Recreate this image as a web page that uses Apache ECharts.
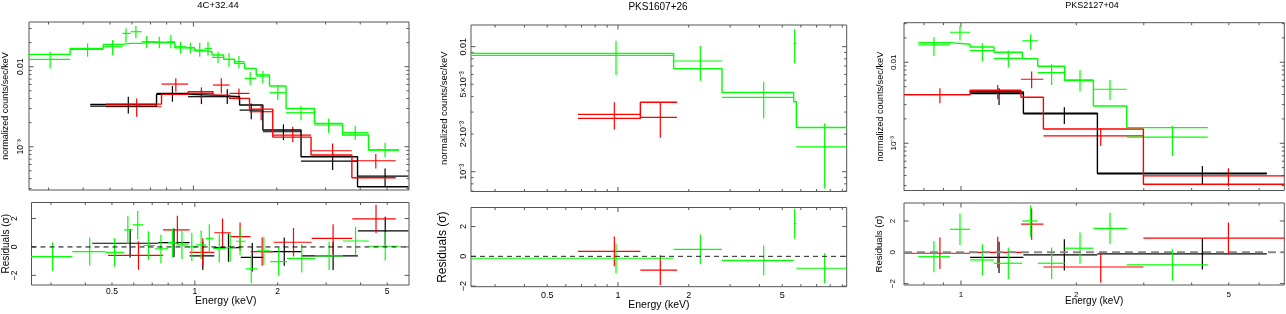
<!DOCTYPE html>
<html><head><meta charset="utf-8">
<script src="https://cdn.jsdelivr.net/npm/echarts@6/dist/echarts.min.js"></script>
<style>html,body{margin:0;padding:0;background:#fff}#c{width:1286px;height:314px}</style>
</head><body><div id="c"></div>
<script>
// ---------- Panel titles ----------
const panelTitles = ['4C+32.44', 'PKS1607+26', 'PKS2127+04'];

// ---------- Panel 1: 4C+32.44 ----------
const p1GreenEdges = [0.254, 0.359, 0.473, 0.554, 0.594, 0.650, 0.716, 0.800, 0.857, 0.944, 1.011, 1.098, 1.167, 1.286, 1.408, 1.530, 1.685, 1.882, 2.160, 2.733, 3.454, 4.284, 5.524];
const p1GreenEnergy = [0.304, 0.415, 0.511, 0.571, 0.620, 0.678, 0.753, 0.829, 0.898, 0.975, 1.054, 1.129, 1.227, 1.344, 1.460, 1.603, 1.781, 2.017, 2.446, 3.076, 3.837, 4.918];
const p1GreenFlux = [0.01235, 0.01647, 0.01778, 0.0261, 0.02738, 0.02054, 0.01995, 0.02054, 0.01778, 0.01728, 0.01616, 0.01695, 0.01308, 0.01235, 0.01155, 0.00715, 0.00764, 0.00473, 0.00266, 0.00187, 0.0015, 0.000909];
const p1GreenFluxHigh = [0.0154, 0.01957, 0.02154, 0.03014, 0.03224, 0.02417, 0.02371, 0.02488, 0.02054, 0.01995, 0.01995, 0.02054, 0.0154, 0.01468, 0.01359, 0.00866, 0.00891, 0.0059, 0.00322, 0.00226, 0.00181, 0.00112];
const p1GreenFluxLow = [0.00953, 0.01334, 0.01399, 0.01995, 0.0226, 0.01695, 0.01695, 0.01695, 0.01468, 0.01468, 0.01334, 0.01372, 0.01101, 0.01, 0.00953, 0.0059, 0.00619, 0.00383, 0.00215, 0.0015, 0.00121, 0.000736];
const p1GreenModel = [0.01426, 0.01695, 0.01902, 0.01957, 0.01957, 0.02054, 0.0201, 0.01995, 0.0172, 0.01728, 0.0158, 0.0154, 0.01399, 0.01235, 0.01101, 0.00953, 0.0079, 0.00573, 0.00301, 0.00196, 0.0014, 0.000909];
const p1GreenResid = [-0.68, -0.33, -0.38, 1.2, 1.55, 0.1, -0.14, 0.3, 0.15, 0, 0.15, 0.6, -0.1, -0.05, 0.4, -1.55, -0.28, -1.03, -0.8, -0.63, 0.42, 0.05];

const p1BlackEdges = [0.424, 0.736, 0.957, 1.177, 1.468, 1.781, 2.446, 3.912, 5.968];
const p1BlackEnergy = [0.582, 0.840, 1.069, 1.325, 1.617, 2.113, 3.180, 4.918];
const p1BlackFlux = [0.00338, 0.00464, 0.00422, 0.00422, 0.00287, 0.00154, 0.000662, 0.00043];
const p1BlackFluxHigh = [0.00422, 0.00573, 0.00521, 0.00521, 0.00348, 0.0019, 0.000841, 0.000536];
const p1BlackFluxLow = [0.00261, 0.00365, 0.00341, 0.00341, 0.0022, 0.00121, 0.000511, 0.000316];
const p1BlackModel = [0.00322, 0.00451, 0.00442, 0.00422, 0.00332, 0.00162, 0.00075, 0.000316];
const p1BlackResid = [0.26, 0.3, -0.63, -0.05, -0.73, -0.33, -0.63, 1.13];

const p1RedEdges = [0.484, 0.767, 0.957, 1.177, 1.351, 1.594, 1.934, 2.658, 3.732, 5.373];
const p1RedEnergy = [0.624, 0.864, 1.069, 1.261, 1.460, 1.756, 2.283, 3.180, 4.553];
const p1RedFlux = [0.00316, 0.00607, 0.00464, 0.0059, 0.00464, 0.00274, 0.0014, 0.000891, 0.000668];
const p1RedFluxHigh = [0.00402, 0.00715, 0.00552, 0.00715, 0.00536, 0.00322, 0.00178, 0.0011, 0.00081];
const p1RedFluxLow = [0.00237, 0.00487, 0.00383, 0.00464, 0.00383, 0.00215, 0.00115, 0.000715, 0.000536];
const p1RedModel = [0.00341, 0.00451, 0.00487, 0.00442, 0.00402, 0.00295, 0.00132, 0.000787, 0.00041];
const p1RedResid = [-0.6, 1.2, -0.38, 1.0, 0.73, -0.33, 0.33, 0.6, 1.98];

// ---------- Panel 2: PKS1607+26 ----------
const p2GreenEdges = [0.237, 1.725, 2.771, 5.592, 5.740, 9.4];
const p2GreenEnergy = [0.981, 2.241, 4.168, 5.647, 7.575];
const p2GreenFlux = [0.00852, 0.00768, 0.00393, 0.01063, 0.00158];
const p2GreenFluxHigh = [0.01117, 0.01012, 0.00525, 0.01376, 0.00244];
const p2GreenFluxLow = [0.00593, 0.00535, 0.00267, 0.00736, 0.000736];
const p2GreenModel = [0.00884, 0.00667, 0.00431, 0.00363, 0.00226];
const p2GreenResid = [-0.13, 0.47, -0.27, 2.2, -0.8];

const p2RedEdges = [0.676, 1.245, 1.783];
const p2RedEnergy = [0.965, 1.514];
const p2RedFlux = [0.00288, 0.00272];
const p2RedFluxHigh = [0.00359, 0.00359];
const p2RedFluxLow = [0.00218, 0.00187];
const p2RedModel = [0.00267, 0.00359];
const p2RedResid = [0.33, -0.93];

// ---------- Panel 3: PKS2127+04 ----------
const p3GreenEdges = [0.774, 0.936, 1.056, 1.219, 1.446, 1.586, 1.865, 2.216, 2.708, 4.406];
const p3GreenEnergy = [0.850, 0.994, 1.137, 1.329, 1.520, 1.724, 2.045, 2.449, 3.563];
const p3GreenFlux = [0.01637, 0.02346, 0.01393, 0.0112, 0.01834, 0.00745, 0.00605, 0.00464, 0.00119];
const p3GreenFluxHigh = [0.02035, 0.0281, 0.01717, 0.01393, 0.02216, 0.00945, 0.00804, 0.00605, 0.00164];
const p3GreenFluxLow = [0.01197, 0.01851, 0.01039, 0.00859, 0.0142, 0.00525, 0.00435, 0.00343, 0.000698];
const p3GreenModel = [0.01749, 0.01668, 0.01546, 0.01329, 0.0111, 0.00893, 0.00594, 0.00289, 0.00156];
const p3GreenResid = [-0.28, 1.47, -0.49, -0.7, 2.0, -0.7, 0.26, 1.53, -0.81];

const p3BlackEdges = [1.056, 1.455, 2.270, 6.283];
const p3BlackEnergy = [1.257, 1.861, 4.266];
const p3BlackFlux = [0.0041, 0.0023, 0.000418];
const p3BlackFluxHigh = [0.00478, 0.00278, 0.000525];
const p3BlackFluxLow = [0.00297, 0.00173, 0.000306];
const p3BlackModel = [0.0043, 0.00235, 0.000426];
const p3BlackResid = [-0.32, -0.17, -0.1];

const p3RedEdges = [0.71, 1.056, 1.434, 1.641, 2.993, 6.98];
const p3RedEnergy = [0.881, 1.247, 1.529, 2.316, 4.989];
const p3RedFlux = [0.00399, 0.00435, 0.00617, 0.00123, 0.000395];
const p3RedFluxHigh = [0.00478, 0.00525, 0.00767, 0.00153, 0.000491];
const p3RedFluxLow = [0.00312, 0.00349, 0.00478, 0.000927, 0.000292];
const p3RedModel = [0.00399, 0.00451, 0.0037, 0.0015, 0.000312];
const p3RedResid = [-0.06, 0, 1.8, -0.94, 0.9];

// ---------- Axis ticks and labels ----------
const p1XMinorTicks = [0.3, 0.4, 0.5, 0.6, 0.7, 0.8, 0.9, 2, 3, 4, 5];
const p1XMajorTicks = [1];
const p1XLabels = [0.5, 1, 2, 5];
const p1YMinorTicks = [3e-4, 4e-4, 5e-4, 6e-4, 7e-4, 8e-4, 9e-4, 2e-3, 3e-3, 4e-3, 5e-3, 6e-3, 7e-3, 8e-3, 9e-3, 0.02, 0.03];
const p1YMajorTicks = [0.01, 0.001];
const p1YLabelValues = [0.01, 0.001];
const p1YLabelTexts = ['0.01', '10⁻³'];

const p2XMinorTicks = [0.3, 0.4, 0.5, 0.6, 0.7, 0.8, 0.9, 2, 3, 4, 5, 6, 7, 8, 9];
const p2XMajorTicks = [1];
const p2XLabels = [0.5, 1, 2, 5];
const p2YMinorTicks = [7e-4, 8e-4, 9e-4, 2e-3, 3e-3, 4e-3, 5e-3, 6e-3, 7e-3, 8e-3, 9e-3];
const p2YMajorTicks = [0.01, 0.001];
const p2YLabelValues = [0.01, 0.005, 0.002, 0.001];
const p2YLabelTexts = ['0.01', '5×10⁻³', '2×10⁻³', '10⁻³'];

const p3XMinorTicks = [0.8, 0.9, 2, 3, 4, 5, 6];
const p3XMajorTicks = [1];
const p3XLabels = [1, 2, 5];
const p3YMinorTicks = [3e-4, 4e-4, 5e-4, 6e-4, 7e-4, 8e-4, 9e-4, 2e-3, 3e-3, 4e-3, 5e-3, 6e-3, 7e-3, 8e-3, 9e-3, 0.02, 0.03];
const p3YMajorTicks = [0.01, 0.001];
const p3YLabelValues = [0.01, 0.001];
const p3YLabelTexts = ['0.01', '10⁻³'];

const residTicks = [-2, 0, 2];
const residLabelTexts = ['−2', '0', '2'];

// ---------- Layout / style (not data) ----------
const FONT = '"Liberation Sans", Arial, Helvetica, sans-serif';
const FRAME = '#555555';
const GREEN = '#00ff00', RED = '#ff0000', BLACK = '#000000';

const panels = [
  { x: [0.255, 6.0], y: [2.88e-4, 0.0362], r: [-2.68, 3.13],
    top: { left: 28, top: 22, width: 381, height: 168 },
    res: { left: 28, top: 202.5, width: 381, height: 82.5 },
    title: { x: 218, y: 5, size: 9.5 },
    tickFont: 8.5, xLabOff: 7, yLabOffTop: 8.6, yLabOffRes: 17,
    gapTop: 19, gapRes: 20.5, sizeTop: 9, sizeRes: 10,
    xNameGap: 11, xNamePad: 11, xNameSize: 10.5,
    zeroLine: { color: '#000', width: 1, type: [5, 4] } },
  { x: [0.237, 9.4], y: [6.95e-4, 0.0149], r: [-2.04, 3.28],
    top: { left: 471, top: 25, width: 375.7, height: 166.5 },
    res: { left: 471, top: 207.5, width: 375.7, height: 79.2 },
    title: { x: 658, y: 7, size: 10 },
    tickFont: 9, xLabOff: 8.6, yLabOffTop: 7, yLabOffRes: 7.8,
    gapTop: 22, gapRes: 22, sizeTop: 9.5, sizeRes: 12,
    xNameGap: 13, xNamePad: 0, xNameSize: 10.5,
    zeroLine: { color: '#222', width: 1, type: [5, 4] } },
  { x: [0.71, 6.98], y: [2.61e-4, 0.0308], r: [-2.09, 3.15],
    top: { left: 904, top: 22.7, width: 380.3, height: 167.8 },
    res: { left: 904, top: 203, width: 380.3, height: 82 },
    title: { x: 1092, y: 6, size: 9 },
    tickFont: 8, xLabOff: 10, yLabOffTop: 10.5, yLabOffRes: 11,
    gapTop: 19.5, gapRes: 19.5, sizeTop: 9.2, sizeRes: 9.6,
    xNameGap: 11.5, xNamePad: 0, xNameSize: 10,
    zeroLine: { color: '#888', width: 2, type: [8, 5] } }
];

const spectra = [
  [ { color: BLACK, edges: p1BlackEdges, e: p1BlackEnergy, f: p1BlackFlux, fh: p1BlackFluxHigh, fl: p1BlackFluxLow, m: p1BlackModel, r: p1BlackResid },
    { color: RED, edges: p1RedEdges, e: p1RedEnergy, f: p1RedFlux, fh: p1RedFluxHigh, fl: p1RedFluxLow, m: p1RedModel, r: p1RedResid },
    { color: GREEN, edges: p1GreenEdges, e: p1GreenEnergy, f: p1GreenFlux, fh: p1GreenFluxHigh, fl: p1GreenFluxLow, m: p1GreenModel, r: p1GreenResid } ],
  [ { color: RED, edges: p2RedEdges, e: p2RedEnergy, f: p2RedFlux, fh: p2RedFluxHigh, fl: p2RedFluxLow, m: p2RedModel, r: p2RedResid },
    { color: GREEN, edges: p2GreenEdges, e: p2GreenEnergy, f: p2GreenFlux, fh: p2GreenFluxHigh, fl: p2GreenFluxLow, m: p2GreenModel, r: p2GreenResid } ],
  [ { color: BLACK, edges: p3BlackEdges, e: p3BlackEnergy, f: p3BlackFlux, fh: p3BlackFluxHigh, fl: p3BlackFluxLow, m: p3BlackModel, r: p3BlackResid },
    { color: RED, edges: p3RedEdges, e: p3RedEnergy, f: p3RedFlux, fh: p3RedFluxHigh, fl: p3RedFluxLow, m: p3RedModel, r: p3RedResid },
    { color: GREEN, edges: p3GreenEdges, e: p3GreenEnergy, f: p3GreenFlux, fh: p3GreenFluxHigh, fl: p3GreenFluxLow, m: p3GreenModel, r: p3GreenResid } ]
];

const axisTicks = [
  { xMin: p1XMinorTicks, xMaj: p1XMajorTicks, xLab: p1XLabels, yMin: p1YMinorTicks, yMaj: p1YMajorTicks, yLabV: p1YLabelValues, yLabT: p1YLabelTexts },
  { xMin: p2XMinorTicks, xMaj: p2XMajorTicks, xLab: p2XLabels, yMin: p2YMinorTicks, yMaj: p2YMajorTicks, yLabV: p2YLabelValues, yLabT: p2YLabelTexts },
  { xMin: p3XMinorTicks, xMaj: p3XMajorTicks, xLab: p3XLabels, yMin: p3YMinorTicks, yMaj: p3YMajorTicks, yLabV: p3YLabelValues, yLabT: p3YLabelTexts }
];

// ---------- Series builders ----------
function crossSeries(gi, E, lo, hi, y, yl, yh, color) {
  const data = E.map((e, i) => [e, lo[i], hi[i], y[i], yl[i], yh[i]]);
  return {
    type: 'custom', xAxisIndex: gi, yAxisIndex: gi, clip: true, silent: true,
    encode: { x: 0, y: 3 }, data,
    renderItem(params, api) {
      const yv = api.value(3);
      const a = api.coord([api.value(1), yv]), b = api.coord([api.value(2), yv]);
      const c = api.coord([api.value(0), api.value(4)]), d = api.coord([api.value(0), api.value(5)]);
      const st = { stroke: color, lineWidth: 1.2 };
      return { type: 'group', children: [
        { type: 'line', shape: { x1: a[0], y1: a[1], x2: b[0], y2: b[1] }, style: st },
        { type: 'line', shape: { x1: c[0], y1: c[1], x2: d[0], y2: d[1] }, style: st } ] };
    }
  };
}
function modelSeries(gi, edges, model, color) {
  const data = model.map((m, i) => [edges[i], m]);
  data.push([edges[edges.length - 1], model[model.length - 1]]);
  return { type: 'line', xAxisIndex: gi, yAxisIndex: gi, step: 'end', symbol: 'none', silent: true,
    data, lineStyle: { color, width: 1.4 }, itemStyle: { color }, clip: true };
}
function xTickSeries(gi, values, len, yRef) {
  return { type: 'custom', xAxisIndex: gi, yAxisIndex: gi, silent: true,
    data: values.map(v => [v, yRef]),
    renderItem(params, api) {
      const cs = params.coordSys;
      const x = api.coord([api.value(0), api.value(1)])[0];
      const st = { stroke: FRAME, lineWidth: 1 };
      return { type: 'group', children: [
        { type: 'line', shape: { x1: x, y1: cs.y + cs.height, x2: x, y2: cs.y + cs.height - len }, style: st },
        { type: 'line', shape: { x1: x, y1: cs.y, x2: x, y2: cs.y + len }, style: st } ] };
    } };
}
function yTickSeries(gi, values, len, xRef) {
  return { type: 'custom', xAxisIndex: gi, yAxisIndex: gi, silent: true,
    data: values.map(v => [xRef, v]),
    renderItem(params, api) {
      const cs = params.coordSys;
      const y = api.coord([api.value(0), api.value(1)])[1];
      const st = { stroke: FRAME, lineWidth: 1 };
      return { type: 'group', children: [
        { type: 'line', shape: { x1: cs.x, y1: y, x2: cs.x + len, y2: y }, style: st },
        { type: 'line', shape: { x1: cs.x + cs.width, y1: y, x2: cs.x + cs.width - len, y2: y }, style: st } ] };
    } };
}
function xLabelSeries(gi, values, yRef, off, size) {
  return { type: 'custom', xAxisIndex: gi, yAxisIndex: gi, silent: true,
    data: values.map(v => [v, yRef]),
    renderItem(params, api) {
      const cs = params.coordSys;
      const x = api.coord([api.value(0), api.value(1)])[0];
      return { type: 'text', x, y: cs.y + cs.height + off,
        style: { text: String(values[params.dataIndex]), fill: '#000', font: size + 'px ' + FONT, align: 'center', verticalAlign: 'middle' } };
    } };
}
function yLabelSeries(gi, values, texts, xRef, off, size) {
  return { type: 'custom', xAxisIndex: gi, yAxisIndex: gi, silent: true,
    data: values.map(v => [xRef, v]),
    renderItem(params, api) {
      const cs = params.coordSys;
      const y = api.coord([api.value(0), api.value(1)])[1];
      return { type: 'text', x: cs.x - off, y, rotation: Math.PI / 2,
        style: { text: texts[params.dataIndex], fill: '#000', font: size + 'px ' + FONT, align: 'center', verticalAlign: 'middle' } };
    } };
}

// ---------- Build option ----------
const grid = [], xAxis = [], yAxis = [], series = [], graphic = [];
const hidden = { axisLine: { show: false }, axisTick: { show: false }, axisLabel: { show: false }, splitLine: { show: false } };

panels.forEach((p, k) => {
  const gTop = 2 * k, gRes = 2 * k + 1;
  grid.push(Object.assign({ show: true, borderColor: FRAME, borderWidth: 1, containLabel: false }, p.top));
  grid.push(Object.assign({ show: true, borderColor: FRAME, borderWidth: 1, containLabel: false }, p.res));
  xAxis.push(Object.assign({ type: 'log', gridIndex: gTop, min: p.x[0], max: p.x[1] }, hidden));
  xAxis.push(Object.assign({ type: 'log', gridIndex: gRes, min: p.x[0], max: p.x[1],
    name: 'Energy (keV)', nameLocation: 'middle', nameGap: p.xNameGap,
    nameTextStyle: { fontSize: p.xNameSize, fontFamily: FONT, color: '#000', padding: [0, 0, 0, p.xNamePad] } }, hidden));
  yAxis.push(Object.assign({ type: 'log', gridIndex: gTop, min: p.y[0], max: p.y[1],
    name: 'normalized counts/sec/keV', nameLocation: 'middle', nameGap: p.gapTop,
    nameTextStyle: { fontSize: p.sizeTop, fontFamily: FONT, color: '#000' } }, hidden));
  yAxis.push(Object.assign({ type: 'value', gridIndex: gRes, min: p.r[0], max: p.r[1],
    name: 'Residuals (σ)', nameLocation: 'middle', nameGap: p.gapRes,
    nameTextStyle: { fontSize: p.sizeRes, fontFamily: FONT, color: '#000' } }, hidden));

  const t = axisTicks[k];
  series.push(xTickSeries(gTop, t.xMin, 2.5, p.y[0]), xTickSeries(gTop, t.xMaj, 4.5, p.y[0]));
  series.push(xTickSeries(gRes, t.xMin, 2.5, 0), xTickSeries(gRes, t.xMaj, 4.5, 0));
  series.push(yTickSeries(gTop, t.yMin, 2.5, p.x[0]), yTickSeries(gTop, t.yMaj, 4.5, p.x[0]));
  series.push(yTickSeries(gRes, residTicks, 4.5, p.x[0]));
  series.push(xLabelSeries(gRes, t.xLab, 0, p.xLabOff, p.tickFont));
  series.push(yLabelSeries(gTop, t.yLabV, t.yLabT, p.x[0], p.yLabOffTop, p.tickFont));
  series.push(yLabelSeries(gRes, residTicks, residLabelTexts, p.x[0], p.yLabOffRes, p.tickFont));
  series.push({ type: 'line', xAxisIndex: gRes, yAxisIndex: gRes, symbol: 'none', silent: true,
    data: [[p.x[0], 0], [p.x[1], 0]], lineStyle: p.zeroLine });
  spectra[k].forEach(s => {
    const lo = s.edges.slice(0, -1), hi = s.edges.slice(1);
    series.push(modelSeries(gTop, s.edges, s.m, s.color));
    series.push(crossSeries(gTop, s.e, lo, hi, s.f, s.fl, s.fh, s.color));
    series.push(crossSeries(gRes, s.e, lo, hi, s.r, s.r.map(v => v - 1), s.r.map(v => v + 1), s.color));
  });
  graphic.push({ type: 'text', x: p.title.x, y: p.title.y, silent: true,
    style: { text: panelTitles[k], fill: '#000', font: p.title.size + 'px ' + FONT, align: 'center', verticalAlign: 'middle' } });
});

const chart = echarts.init(document.getElementById('c'), null, { renderer: 'canvas' });
chart.setOption({ animation: false, backgroundColor: '#fff', grid, xAxis, yAxis, series, graphic });
</script></body></html>
